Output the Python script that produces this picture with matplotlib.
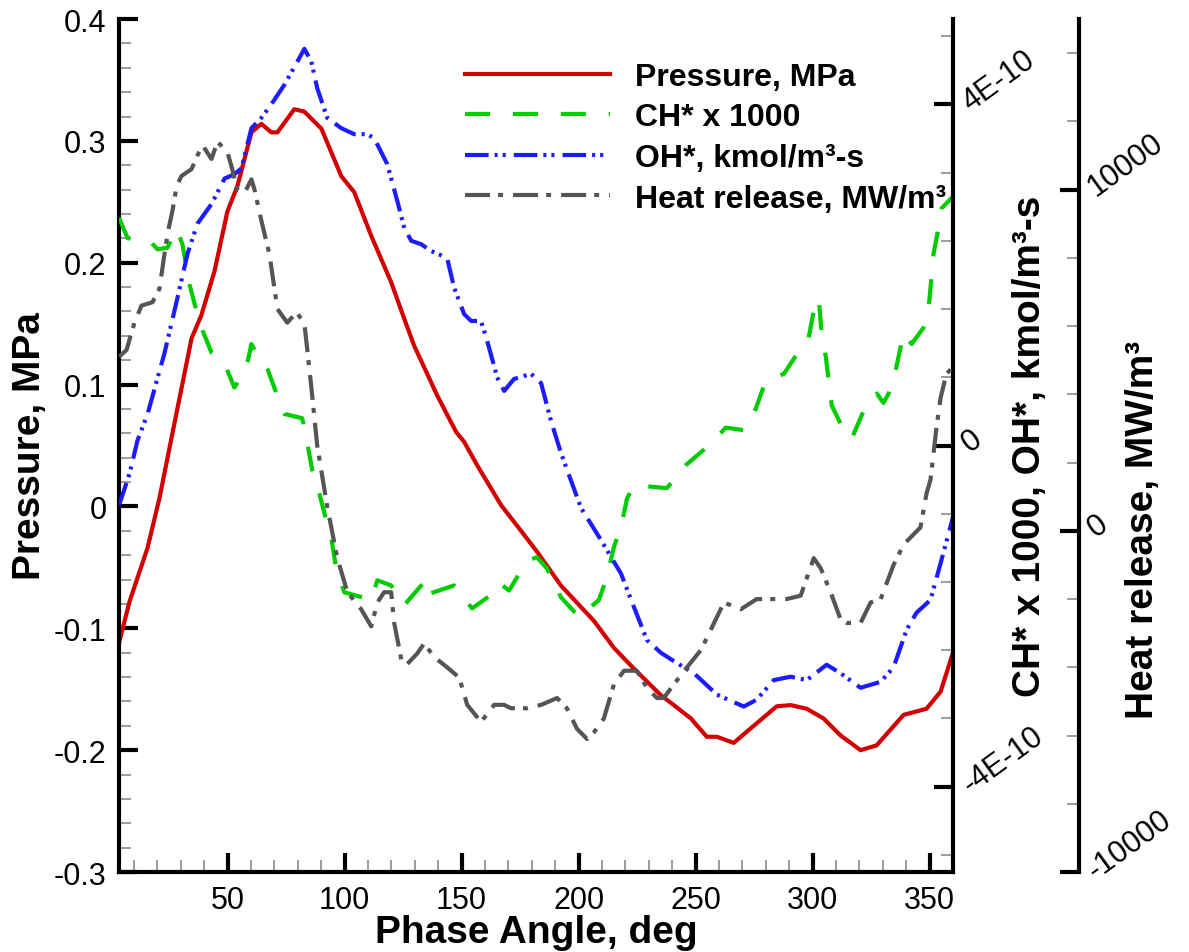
import numpy as np
import matplotlib
matplotlib.use('Agg')
import matplotlib.pyplot as plt
from matplotlib.ticker import MultipleLocator

plt.rcParams['font.family'] = ['Liberation Sans', 'DejaVu Sans']
plt.rcParams['axes.unicode_minus'] = False
plt.rcParams['lines.scale_dashes'] = False

# pressure, MPa (left axis)
p_deg = [3.6, 8.1, 15.8, 20.9, 26.0, 34.6, 38.8, 44.4, 49.9, 54.2, 60.2, 64.4, 68.7, 71.3,
         78.5, 82.8, 90.1, 98.6, 104.1, 111.4, 119.9, 125.5, 129.7, 139.6, 147.7, 151.1,
         156.6, 166.9, 175.4, 182.2, 192.5, 206.6, 215.1, 223.6, 235.2, 240.7, 248.0, 254.8,
         259.1, 266.3, 273.6, 284.7, 290.6, 297.5, 304.7, 312.0, 320.5, 327.4, 338.9, 348.7,
         354.7, 360.0]
p_val = [-0.112, -0.078, -0.034, 0.007, 0.056, 0.138, 0.157, 0.193, 0.242, 0.263, 0.307,
         0.314, 0.307, 0.307, 0.326, 0.324, 0.310, 0.271, 0.258, 0.222, 0.184, 0.154, 0.132,
         0.091, 0.061, 0.053, 0.034, 0.001, -0.020, -0.037, -0.065, -0.094, -0.116, -0.133,
         -0.155, -0.163, -0.174, -0.189, -0.189, -0.194, -0.182, -0.164, -0.163, -0.166,
         -0.174, -0.188, -0.200, -0.196, -0.171, -0.166, -0.152, -0.120]

# CH* x 1000 (units of 1E-10)
ch_deg = [3.6, 7.3, 16.6, 20.1, 24.3, 28.2, 30.7, 33.7, 35.9, 39.3, 43.1, 48.7, 52.9, 58.0,
          60.2, 62.3, 67.0, 71.3, 74.3, 81.9, 84.1, 86.2, 89.2, 92.2, 94.3, 96.5, 99.9, 111.4,
          114.0, 119.9, 125.5, 135.3, 137.0, 146.8, 154.5, 162.6, 166.0, 170.3, 178.0, 182.2,
          186.5, 192.5, 200.2, 208.7, 212.1, 215.1, 218.1, 220.7, 223.6, 226.6, 237.7, 245.8,
          256.5, 262.9, 270.6, 275.7, 280.0, 287.7, 292.8, 298.3, 300.5, 302.6, 303.9, 305.6,
          308.2, 312.4, 316.7, 323.1, 327.4, 330.3, 332.5, 335.5, 338.9, 342.3, 347.4, 349.6,
          351.7, 353.8, 355.1, 360.0]
ch_val = [2.67, 2.43, 2.40, 2.30, 2.32, 2.54, 2.36, 1.89, 1.66, 1.35, 1.09, 0.96, 0.68, 0.91,
          1.19, 1.08, 0.90, 0.58, 0.37, 0.32, 0.02, -0.29, -0.56, -0.88, -1.08, -1.46, -1.72,
          -1.81, -1.58, -1.64, -1.87, -1.56, -1.73, -1.64, -1.91, -1.75, -1.61, -1.70, -1.35,
          -1.31, -1.44, -1.78, -2.01, -1.81, -1.54, -1.19, -0.96, -0.62, -0.47, -0.47, -0.50,
          -0.23, 0.02, 0.21, 0.18, 0.43, 0.76, 0.84, 1.05, 1.26, 1.58, 1.73, 1.31, 1.05, 0.47,
          0.23, 0.08, 0.49, 0.61, 0.50, 0.61, 0.88, 1.32, 1.19, 1.38, 1.61, 2.25, 2.55, 2.78,
          2.92]

# OH*, kmol/m3-s (units of 1E-10)
oh_deg = [3.6, 8.1, 11.5, 15.8, 23.0, 27.3, 32.9, 37.1, 43.1, 48.7, 52.9, 55.9, 60.2, 64.4,
          68.7, 74.3, 79.8, 82.8, 85.8, 88.3, 92.6, 98.6, 104.1, 109.7, 112.7, 118.2, 122.5,
          125.5, 128.5, 132.7, 137.0, 143.8, 146.8, 151.1, 154.1, 158.3, 160.9, 165.2, 168.2,
          172.4, 179.7, 184.0, 188.2, 192.5, 201.0, 209.6, 218.1, 223.6, 229.2, 235.2, 242.0,
          249.3, 259.1, 270.6, 276.1, 283.4, 290.6, 297.5, 306.0, 312.0, 320.5, 329.1, 334.6,
          340.2, 344.4, 350.4, 354.7, 360.0]
oh_val = [-0.70, -0.33, 0.06, 0.37, 1.08, 1.58, 2.25, 2.60, 2.83, 3.13, 3.18, 3.25, 3.72, 3.84,
          4.00, 4.23, 4.50, 4.65, 4.50, 4.19, 3.84, 3.72, 3.65, 3.65, 3.60, 3.30, 2.87, 2.55,
          2.40, 2.36, 2.28, 2.20, 1.85, 1.54, 1.46, 1.46, 1.23, 0.80, 0.64, 0.78, 0.84, 0.73,
          0.29, -0.09, -0.73, -1.11, -1.50, -1.89, -2.28, -2.43, -2.55, -2.67, -2.92, -3.06,
          -2.98, -2.75, -2.71, -2.75, -2.57, -2.67, -2.84, -2.77, -2.60, -2.16, -1.96, -1.81,
          -1.38, -0.84]

# heat release, MW/m3 (third axis)
hr_deg = [3.6, 6.8, 10.2, 13.2, 17.9, 20.9, 23.0, 24.3, 26.5, 28.2, 30.3, 34.6, 37.1, 39.3,
          43.1, 45.7, 49.9, 51.6, 54.2, 57.2, 60.2, 61.5, 64.4, 67.9, 71.3, 75.5, 79.4, 82.8,
          85.8, 88.3, 92.6, 96.9, 101.2, 107.1, 111.4, 114.0, 116.9, 119.9, 121.2, 124.6,
          126.8, 131.0, 134.0, 138.3, 143.8, 149.0, 152.4, 158.3, 163.9, 168.2, 171.1, 178.0,
          184.0, 190.8, 195.0, 199.3, 203.6, 206.6, 210.8, 215.1, 219.4, 224.9, 229.2, 233.5,
          236.4, 240.7, 246.3, 252.2, 256.5, 262.1, 269.3, 276.1, 283.4, 288.9, 294.9, 300.5,
          303.5, 307.7, 312.0, 314.6, 320.5, 324.8, 329.1, 334.6, 338.9, 346.1, 348.7, 350.4,
          352.9, 354.7, 357.2, 360.0]
hr_val = [5100, 5300, 6100, 6600, 6700, 7100, 8100, 8700, 9400, 10100, 10400, 10600, 11000,
          11300, 10900, 11400, 11100, 10700, 10000, 9900, 10300, 10000, 9100, 8100, 6500, 6100,
          6400, 6100, 4200, 2500, 700, -800, -1800, -2300, -2800, -2100, -1800, -1800, -2700,
          -3900, -3900, -3600, -3300, -3700, -4000, -4300, -5100, -5600, -5100, -5100, -5200,
          -5200, -5100, -4900, -5200, -5800, -6100, -5900, -5500, -4500, -4100, -4100, -4600,
          -4900, -4900, -4500, -4000, -3500, -2900, -2100, -2300, -2000, -2000, -2000, -1900,
          -800, -1100, -1800, -2600, -2700, -2700, -2100, -2000, -1000, -400, 100, 1100, 1500,
          3000, 3900, 4600, 4800]

fig = plt.figure(figsize=(11.89, 9.53), dpi=100)
ax = fig.add_axes([0.1001, 0.0839, 0.7014, 0.8951])
ax2 = ax.twinx()
ax3 = ax.twinx()

ax.plot(p_deg, p_val, color='#d20000', lw=3, label='Pressure, MPa')
ax2.plot(ch_deg, np.array(ch_val) * 1e-10, color='#00cc00', lw=3, dashes=(18, 16.5),
         label='CH* x 1000')
ax2.plot(oh_deg, np.array(oh_val) * 1e-10, color='#1c1cff', lw=3,
         dashes=(17, 4.3, 2.2, 3.6, 2.2, 5.8), label='OH*, kmol/m³-s')
ax3.plot(hr_deg, hr_val, color='#555555', lw=3, dashes=(18, 5.8, 3.6, 7.2),
         label='Heat release, MW/m³')

ax.set_xlim(3.6, 360)
ax.set_ylim(-0.3, 0.4)
ax2.set_ylim(-5e-10, 5e-10)
ax3.set_ylim(-10000, 15000)

ax.spines['top'].set_visible(False)
ax.spines['right'].set_visible(False)
for a in (ax2, ax3):
    for s in ('top', 'left', 'bottom'):
        a.spines[s].set_visible(False)
for a in (ax, ax2, ax3):
    for s in a.spines.values():
        s.set_linewidth(3)
ax3.spines['right'].set_position(('axes', 1.151))

ax.xaxis.set_major_locator(MultipleLocator(50))
ax.xaxis.set_minor_locator(MultipleLocator(10))
yt = [-0.3, -0.2, -0.1, 0, 0.1, 0.2, 0.3, 0.4]
ax.set_yticks(yt, ['-0.3', '-0.2', '-0.1', '0', '0.1', '0.2', '0.3', '0.4'])
ax.yaxis.set_minor_locator(MultipleLocator(0.02))
ax.tick_params(which='major', direction='in', length=14, width=3, labelsize=22, pad=9)
ax.tick_params(which='minor', direction='in', length=8.5, width=1.2, color='#8a8a8a')
ax.tick_params(top=False, right=False, which='both')

ax2.set_yticks([-4e-10, 0, 4e-10], ['-4E-10', '0', '4E-10'])
ax2.yaxis.set_minor_locator(MultipleLocator(0.8e-10))
ax3.set_yticks([-10000, 0, 10000], ['-10000', '0', '10000'])
ax3.yaxis.set_minor_locator(MultipleLocator(2000))
for a in (ax2, ax3):
    a.tick_params(axis='y', which='major', direction='in', length=14, width=3,
                  labelsize=22, pad=9, labelrotation=36)
    a.tick_params(axis='y', which='minor', direction='in', length=8.5, width=1.2,
                  color='#8a8a8a')
    plt.setp(a.get_yticklabels(), rotation_mode='anchor', va='center')

lab = dict(fontsize=28, fontweight='bold')
ax.set_xlabel('Phase Angle, deg', va='center', **lab)
ax.xaxis.set_label_coords(0.5, -0.0703)
ax.set_ylabel('Pressure, MPa', va='center', **lab)
ax.yaxis.set_label_coords(-0.1067, 0.5)
ax2.set_ylabel('CH* x 1000, OH*, kmol/m³-s', va='center', **lab)
ax2.yaxis.set_label_coords(1.0923, 0.5)
ax3.set_ylabel('Heat release, MW/m³', va='center', **lab)
ax3.yaxis.set_label_coords(1.2278, 0.4021)

handles = ax.get_lines() + ax2.get_lines() + ax3.get_lines()
fig.legend(handles, [h.get_label() for h in handles], loc='upper left',
           bbox_to_anchor=(0.391, 0.934), frameon=False,
           prop=dict(weight='bold', size=23), handlelength=4.53, handletextpad=0.78,
           labelspacing=0.33, borderpad=0, borderaxespad=0)

fig.savefig('out.png', dpi=100)
